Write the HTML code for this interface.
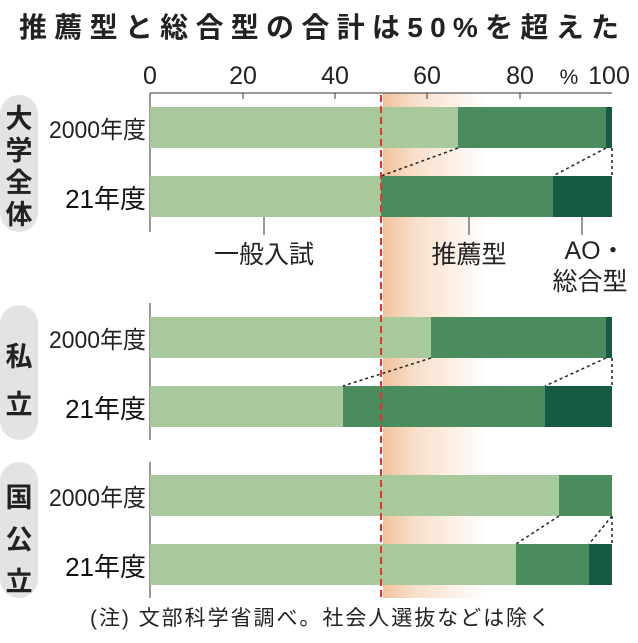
<!DOCTYPE html><html><head><meta charset="utf-8"><style>
body{margin:0;background:#fff;width:638px;height:638px;overflow:hidden}
text{font-family:"Liberation Sans","Noto Sans CJK JP",sans-serif}
</style></head><body>
<svg width="638" height="638" viewBox="0 0 638 638">
<defs><linearGradient id="g" x1="0" x2="1"><stop offset="0" stop-color="#f0c29c"/><stop offset="0.3" stop-color="#f8dfc9"/><stop offset="1" stop-color="#fff"/></linearGradient></defs>
<text x="319" y="37" font-size="28" font-weight="bold" text-anchor="middle" fill="#222" textLength="600">推薦型と総合型の合計は50%を超えた</text>
<g font-size="25" fill="#222" text-anchor="middle">
<text x="150" y="84">0</text><text x="243" y="84">20</text><text x="335" y="84">40</text><text x="427" y="84">60</text><text x="520" y="84">80</text><text x="569" y="84" font-size="21">%</text><text x="609" y="84">100</text></g>
<rect x="383" y="93" width="105" height="505" fill="url(#g)"/>
<g fill="#e3e3e3"><rect x="0" y="95" width="38" height="137" rx="19"/><rect x="0" y="305" width="38" height="135" rx="19"/><rect x="0" y="462" width="38" height="136" rx="19"/></g>
<g font-size="27" font-weight="bold" fill="#222" text-anchor="middle">
<text x="19" y="128">大</text><text x="19" y="160">学</text><text x="19" y="192">全</text><text x="19" y="224">体</text>
<text x="19" y="366">私</text><text x="19" y="414">立</text>
<text x="19" y="507">国</text><text x="19" y="549">公</text><text x="19" y="591">立</text></g>
<g font-size="24" fill="#222" text-anchor="end">
<text x="146" y="138" textLength="97" lengthAdjust="spacingAndGlyphs">2000年度</text><text x="146" y="348" textLength="97" lengthAdjust="spacingAndGlyphs">2000年度</text><text x="146" y="506" textLength="97" lengthAdjust="spacingAndGlyphs">2000年度</text></g>
<g font-size="26" fill="#111" text-anchor="end">
<text x="146" y="208">21年度</text><text x="146" y="418">21年度</text><text x="146" y="576">21年度</text></g>
<g stroke="#333" stroke-width="1" fill="none">
<line x1="150" y1="93" x2="612" y2="93"/>
<line x1="150" y1="93" x2="150" y2="232"/><line x1="150" y1="303" x2="150" y2="440"/><line x1="150" y1="462" x2="150" y2="598"/>
<line x1="243" y1="93" x2="243" y2="99"/><line x1="335" y1="93" x2="335" y2="99"/><line x1="427" y1="93" x2="427" y2="99"/><line x1="520" y1="93" x2="520" y2="99"/>
<line x1="264" y1="217" x2="264" y2="235"/><line x1="469" y1="217" x2="469" y2="235"/><line x1="582" y1="217" x2="582" y2="235"/></g>
<g>
<rect x="150" y="107" width="308" height="41" fill="#a8c99c"/><rect x="458" y="107" width="148" height="41" fill="#4b8c5e"/><rect x="606" y="107" width="6" height="41" fill="#145a44"/>
<rect x="150" y="176" width="231" height="41" fill="#a8c99c"/><rect x="381" y="176" width="172" height="41" fill="#4b8c5e"/><rect x="553" y="176" width="59" height="41" fill="#145a44"/>
<rect x="150" y="317" width="281" height="41" fill="#a8c99c"/><rect x="431" y="317" width="175" height="41" fill="#4b8c5e"/><rect x="606" y="317" width="6" height="41" fill="#145a44"/>
<rect x="150" y="386" width="193" height="41" fill="#a8c99c"/><rect x="343" y="386" width="202" height="41" fill="#4b8c5e"/><rect x="545" y="386" width="67" height="41" fill="#145a44"/>
<rect x="150" y="475" width="409" height="41" fill="#a8c99c"/><rect x="559" y="475" width="53" height="41" fill="#4b8c5e"/>
<rect x="150" y="544" width="366" height="41" fill="#a8c99c"/><rect x="516" y="544" width="73" height="41" fill="#4b8c5e"/><rect x="589" y="544" width="23" height="41" fill="#145a44"/>
</g>
<g stroke="#222" stroke-width="1.5" stroke-dasharray="3,3" fill="none">
<line x1="458" y1="148" x2="381" y2="176"/><line x1="606" y1="148" x2="553" y2="176"/><line x1="612" y1="148" x2="612" y2="176"/>
<line x1="431" y1="358" x2="343" y2="386"/><line x1="606" y1="358" x2="545" y2="386"/><line x1="612" y1="358" x2="612" y2="386"/>
<line x1="559" y1="516" x2="516" y2="544"/><line x1="612" y1="516" x2="589" y2="544"/><line x1="612" y1="516" x2="612" y2="544"/></g>
<line x1="381" y1="95" x2="381" y2="598" stroke="#e8322a" stroke-width="2" stroke-dasharray="7,4"/>
<g font-size="25" fill="#222" text-anchor="middle">
<text x="264" y="263">一般入試</text>
<text x="469" y="263">推薦型</text>
<text x="595" y="259">AO・</text>
<text x="590" y="290">総合型</text></g>
<text x="320" y="625" font-size="21" fill="#222" text-anchor="middle" textLength="460">(注) 文部科学省調べ。社会人選抜などは除く</text>
</svg></body></html>
